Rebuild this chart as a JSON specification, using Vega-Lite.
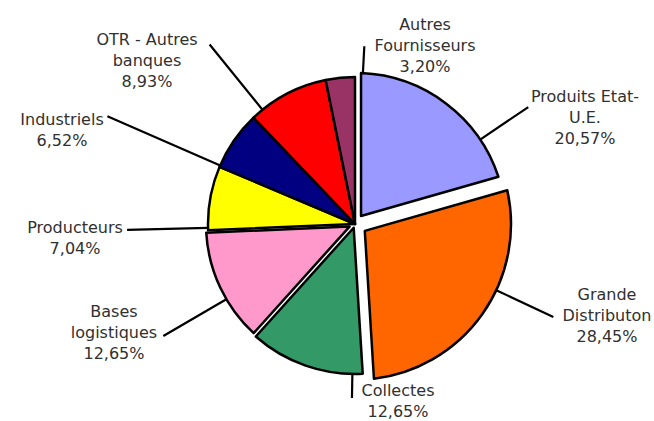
{
  "$schema": "https://vega.github.io/schema/vega-lite/v6.json",
  "width": 598,
  "height": 394,
  "autosize": {"type": "none"},
  "padding": {"left": 56, "top": 27, "right": 0, "bottom": 0},
  "background": "white",
  "config": {"view": {"stroke": null}},
  "data": {
    "values": [
      {"rank": 1, "cat": "Produits Etat-U.E.", "value": 20.57, "label": "Produits Etat-\nU.E.\n20,57%"},
      {"rank": 2, "cat": "Grande Distribution", "value": 28.45, "label": "Grande\nDistributon\n28,45%"},
      {"rank": 3, "cat": "Collectes", "value": 12.65, "label": "Collectes\n12,65%"},
      {"rank": 4, "cat": "Bases logistiques", "value": 12.65, "label": "Bases\nlogistiques\n12,65%"},
      {"rank": 5, "cat": "Producteurs", "value": 7.04, "label": "Producteurs\n7,04%"},
      {"rank": 6, "cat": "Industriels", "value": 6.52, "label": "Industriels\n6,52%"},
      {"rank": 7, "cat": "OTR - Autres banques", "value": 8.93, "label": "OTR - Autres\nbanques\n8,93%"},
      {"rank": 8, "cat": "Autres Fournisseurs", "value": 3.2, "label": "Autres\nFournisseurs\n3,20%"}
    ]
  },
  "transform": [
    {"stack": "value", "groupby": [], "sort": [{"field": "rank", "order": "ascending"}], "as": ["v0", "v1"]}
  ],
  "layer": [
    {
      "transform": [{"filter": {"field": "cat", "oneOf": ["Producteurs", "Industriels", "OTR - Autres banques", "Autres Fournisseurs"]}}],
      "mark": {"type": "arc", "outerRadius": 147, "innerRadius": 0, "stroke": "black", "strokeWidth": 2.5, "strokeJoin": "round"},
      "encoding": {
        "theta": {"field": "v0", "type": "quantitative", "stack": null, "scale": {"domain": [0, 100.01]}},
        "theta2": {"field": "v1"},
        "color": {"field": "cat", "type": "nominal", "legend": null, "scale": {"domain": ["Produits Etat-U.E.", "Grande Distribution", "Collectes", "Bases logistiques", "Producteurs", "Industriels", "OTR - Autres banques", "Autres Fournisseurs"], "range": ["#9999FF", "#FF6600", "#339966", "#FF99CC", "#FFFF00", "#000080", "#FF0000", "#993366"]}}
      }
    },
    {
      "transform": [{"filter": {"field": "cat", "equal": "Produits Etat-U.E."}}],
      "mark": {"type": "arc", "outerRadius": 151, "innerRadius": 10, "padAngle": 0.0796, "stroke": "black", "strokeWidth": 2.5, "strokeJoin": "round"},
      "encoding": {
        "theta": {"field": "v0", "type": "quantitative", "stack": null},
        "theta2": {"field": "v1"},
        "color": {"field": "cat", "type": "nominal", "legend": null}
      }
    },
    {
      "transform": [{"filter": {"field": "cat", "equal": "Grande Distribution"}}],
      "mark": {"type": "arc", "outerRadius": 156, "innerRadius": 12, "padAngle": 0.1196, "stroke": "black", "strokeWidth": 2.5, "strokeJoin": "round"},
      "encoding": {
        "theta": {"field": "v0", "type": "quantitative", "stack": null},
        "theta2": {"field": "v1"},
        "color": {"field": "cat", "type": "nominal", "legend": null}
      }
    },
    {
      "transform": [{"filter": {"field": "cat", "equal": "Collectes"}}],
      "mark": {"type": "arc", "outerRadius": 150, "innerRadius": 4, "padAngle": 0.0206, "stroke": "black", "strokeWidth": 2.5, "strokeJoin": "round"},
      "encoding": {
        "theta": {"field": "v0", "type": "quantitative", "stack": null},
        "theta2": {"field": "v1"},
        "color": {"field": "cat", "type": "nominal", "legend": null}
      }
    },
    {
      "transform": [{"filter": {"field": "cat", "equal": "Bases logistiques"}}],
      "mark": {"type": "arc", "outerRadius": 149, "innerRadius": 6, "padAngle": 0.0311, "stroke": "black", "strokeWidth": 2.5, "strokeJoin": "round"},
      "encoding": {
        "theta": {"field": "v0", "type": "quantitative", "stack": null},
        "theta2": {"field": "v1"},
        "color": {"field": "cat", "type": "nominal", "legend": null}
      }
    },
    {
      "transform": [{"filter": {"field": "cat", "equal": "Produits Etat-U.E."}}, {"fold": ["v0", "v1"], "as": ["edge", "pos"]}, {"aggregate": [{"op": "mean", "field": "pos", "as": "mid"}], "groupby": ["cat", "label"]}],
      "layer": [
        {"mark": {"type": "arc", "innerRadius": 151, "outerRadius": 209, "thetaOffset": 0.3312, "theta2Offset": 0.3312, "stroke": "black", "strokeWidth": 2.2, "fill": null},
         "encoding": {"theta": {"field": "mid", "type": "quantitative", "stack": null}, "theta2": {"field": "mid"}}},
        {"mark": {"type": "text", "radius": 262.7, "thetaOffset": 0.4201, "align": "center", "baseline": "middle", "lineBreak": "\n", "font": "DejaVu Sans", "fontSize": 16, "lineHeight": 21, "color": "#303030"},
         "encoding": {"theta": {"field": "mid", "type": "quantitative", "stack": null}, "text": {"field": "label", "type": "nominal"}}}
      ]
    },
    {
      "transform": [{"filter": {"field": "cat", "equal": "Grande Distribution"}}, {"fold": ["v0", "v1"], "as": ["edge", "pos"]}, {"aggregate": [{"op": "mean", "field": "pos", "as": "mid"}], "groupby": ["cat", "label"]}],
      "layer": [
        {"mark": {"type": "arc", "innerRadius": 156, "outerRadius": 219, "thetaOffset": -0.1771, "theta2Offset": -0.1771, "stroke": "black", "strokeWidth": 2.2, "fill": null},
         "encoding": {"theta": {"field": "mid", "type": "quantitative", "stack": null}, "theta2": {"field": "mid"}}},
        {"mark": {"type": "text", "radius": 261.8, "thetaOffset": -0.3405, "align": "center", "baseline": "middle", "lineBreak": "\n", "font": "DejaVu Sans", "fontSize": 16, "lineHeight": 21, "color": "#303030"},
         "encoding": {"theta": {"field": "mid", "type": "quantitative", "stack": null}, "text": {"field": "label", "type": "nominal"}}}
      ]
    },
    {
      "transform": [{"filter": {"field": "cat", "equal": "Collectes"}}, {"fold": ["v0", "v1"], "as": ["edge", "pos"]}, {"aggregate": [{"op": "mean", "field": "pos", "as": "mid"}], "groupby": ["cat", "label"]}],
      "layer": [
        {"mark": {"type": "arc", "innerRadius": 150, "outerRadius": 174, "thetaOffset": -0.318, "theta2Offset": -0.318, "stroke": "black", "strokeWidth": 2.2, "fill": null},
         "encoding": {"theta": {"field": "mid", "type": "quantitative", "stack": null}, "theta2": {"field": "mid"}}},
        {"mark": {"type": "text", "radius": 172.4, "thetaOffset": -0.5875, "align": "center", "baseline": "middle", "lineBreak": "\n", "font": "DejaVu Sans", "fontSize": 16, "lineHeight": 21, "color": "#303030"},
         "encoding": {"theta": {"field": "mid", "type": "quantitative", "stack": null}, "text": {"field": "label", "type": "nominal"}}}
      ]
    },
    {
      "transform": [{"filter": {"field": "cat", "equal": "Bases logistiques"}}, {"fold": ["v0", "v1"], "as": ["edge", "pos"]}, {"aggregate": [{"op": "mean", "field": "pos", "as": "mid"}], "groupby": ["cat", "label"]}],
      "layer": [
        {"mark": {"type": "arc", "innerRadius": 149, "outerRadius": 222, "thetaOffset": -0.0883, "theta2Offset": -0.0883, "stroke": "black", "strokeWidth": 2.2, "fill": null},
         "encoding": {"theta": {"field": "mid", "type": "quantitative", "stack": null}, "theta2": {"field": "mid"}}},
        {"mark": {"type": "text", "radius": 256.6, "thetaOffset": 0.0904, "align": "center", "baseline": "middle", "lineBreak": "\n", "font": "DejaVu Sans", "fontSize": 16, "lineHeight": 21, "color": "#303030"},
         "encoding": {"theta": {"field": "mid", "type": "quantitative", "stack": null}, "text": {"field": "label", "type": "nominal"}}}
      ]
    },
    {
      "transform": [{"filter": {"field": "cat", "equal": "Producteurs"}}, {"fold": ["v0", "v1"], "as": ["edge", "pos"]}, {"aggregate": [{"op": "mean", "field": "pos", "as": "mid"}], "groupby": ["cat", "label"]}],
      "layer": [
        {"mark": {"type": "arc", "innerRadius": 147, "outerRadius": 228, "thetaOffset": -0.2041, "theta2Offset": -0.2041, "stroke": "black", "strokeWidth": 2.2, "fill": null},
         "encoding": {"theta": {"field": "mid", "type": "quantitative", "stack": null}, "theta2": {"field": "mid"}}},
        {"mark": {"type": "text", "radius": 280.0, "thetaOffset": -0.1923, "align": "center", "baseline": "middle", "lineBreak": "\n", "font": "DejaVu Sans", "fontSize": 16, "lineHeight": 21, "color": "#303030"},
         "encoding": {"theta": {"field": "mid", "type": "quantitative", "stack": null}, "text": {"field": "label", "type": "nominal"}}}
      ]
    },
    {
      "transform": [{"filter": {"field": "cat", "equal": "Industriels"}}, {"fold": ["v0", "v1"], "as": ["edge", "pos"]}, {"aggregate": [{"op": "mean", "field": "pos", "as": "mid"}], "groupby": ["cat", "label"]}],
      "layer": [
        {"mark": {"type": "arc", "innerRadius": 147, "outerRadius": 270, "thetaOffset": -0.1938, "theta2Offset": -0.1938, "stroke": "black", "strokeWidth": 2.2, "fill": null},
         "encoding": {"theta": {"field": "mid", "type": "quantitative", "stack": null}, "theta2": {"field": "mid"}}},
        {"mark": {"type": "text", "radius": 310.9, "thetaOffset": -0.2629, "align": "center", "baseline": "middle", "lineBreak": "\n", "font": "DejaVu Sans", "fontSize": 16, "lineHeight": 21, "color": "#303030"},
         "encoding": {"theta": {"field": "mid", "type": "quantitative", "stack": null}, "text": {"field": "label", "type": "nominal"}}}
      ]
    },
    {
      "transform": [{"filter": {"field": "cat", "equal": "OTR - Autres banques"}}, {"fold": ["v0", "v1"], "as": ["edge", "pos"]}, {"aggregate": [{"op": "mean", "field": "pos", "as": "mid"}], "groupby": ["cat", "label"]}],
      "layer": [
        {"mark": {"type": "arc", "innerRadius": 147, "outerRadius": 231, "thetaOffset": -0.1991, "theta2Offset": -0.1991, "stroke": "black", "strokeWidth": 2.2, "fill": null},
         "encoding": {"theta": {"field": "mid", "type": "quantitative", "stack": null}, "theta2": {"field": "mid"}}},
        {"mark": {"type": "text", "radius": 277.7, "thetaOffset": -0.3651, "align": "center", "baseline": "middle", "lineBreak": "\n", "font": "DejaVu Sans", "fontSize": 16, "lineHeight": 21, "color": "#303030"},
         "encoding": {"theta": {"field": "mid", "type": "quantitative", "stack": null}, "text": {"field": "label", "type": "nominal"}}}
      ]
    },
    {
      "transform": [{"filter": {"field": "cat", "equal": "Autres Fournisseurs"}}, {"fold": ["v0", "v1"], "as": ["edge", "pos"]}, {"aggregate": [{"op": "mean", "field": "pos", "as": "mid"}], "groupby": ["cat", "label"]}],
      "layer": [
        {"mark": {"type": "arc", "innerRadius": 150, "outerRadius": 178, "thetaOffset": 0.1529, "theta2Offset": 0.1529, "stroke": "black", "strokeWidth": 2.2, "fill": null},
         "encoding": {"theta": {"field": "mid", "type": "quantitative", "stack": null}, "theta2": {"field": "mid"}}},
        {"mark": {"type": "text", "radius": 211.0, "thetaOffset": 0.4388, "align": "center", "baseline": "middle", "lineBreak": "\n", "font": "DejaVu Sans", "fontSize": 16, "lineHeight": 21, "color": "#303030"},
         "encoding": {"theta": {"field": "mid", "type": "quantitative", "stack": null}, "text": {"field": "label", "type": "nominal"}}}
      ]
    }
  ]
}
